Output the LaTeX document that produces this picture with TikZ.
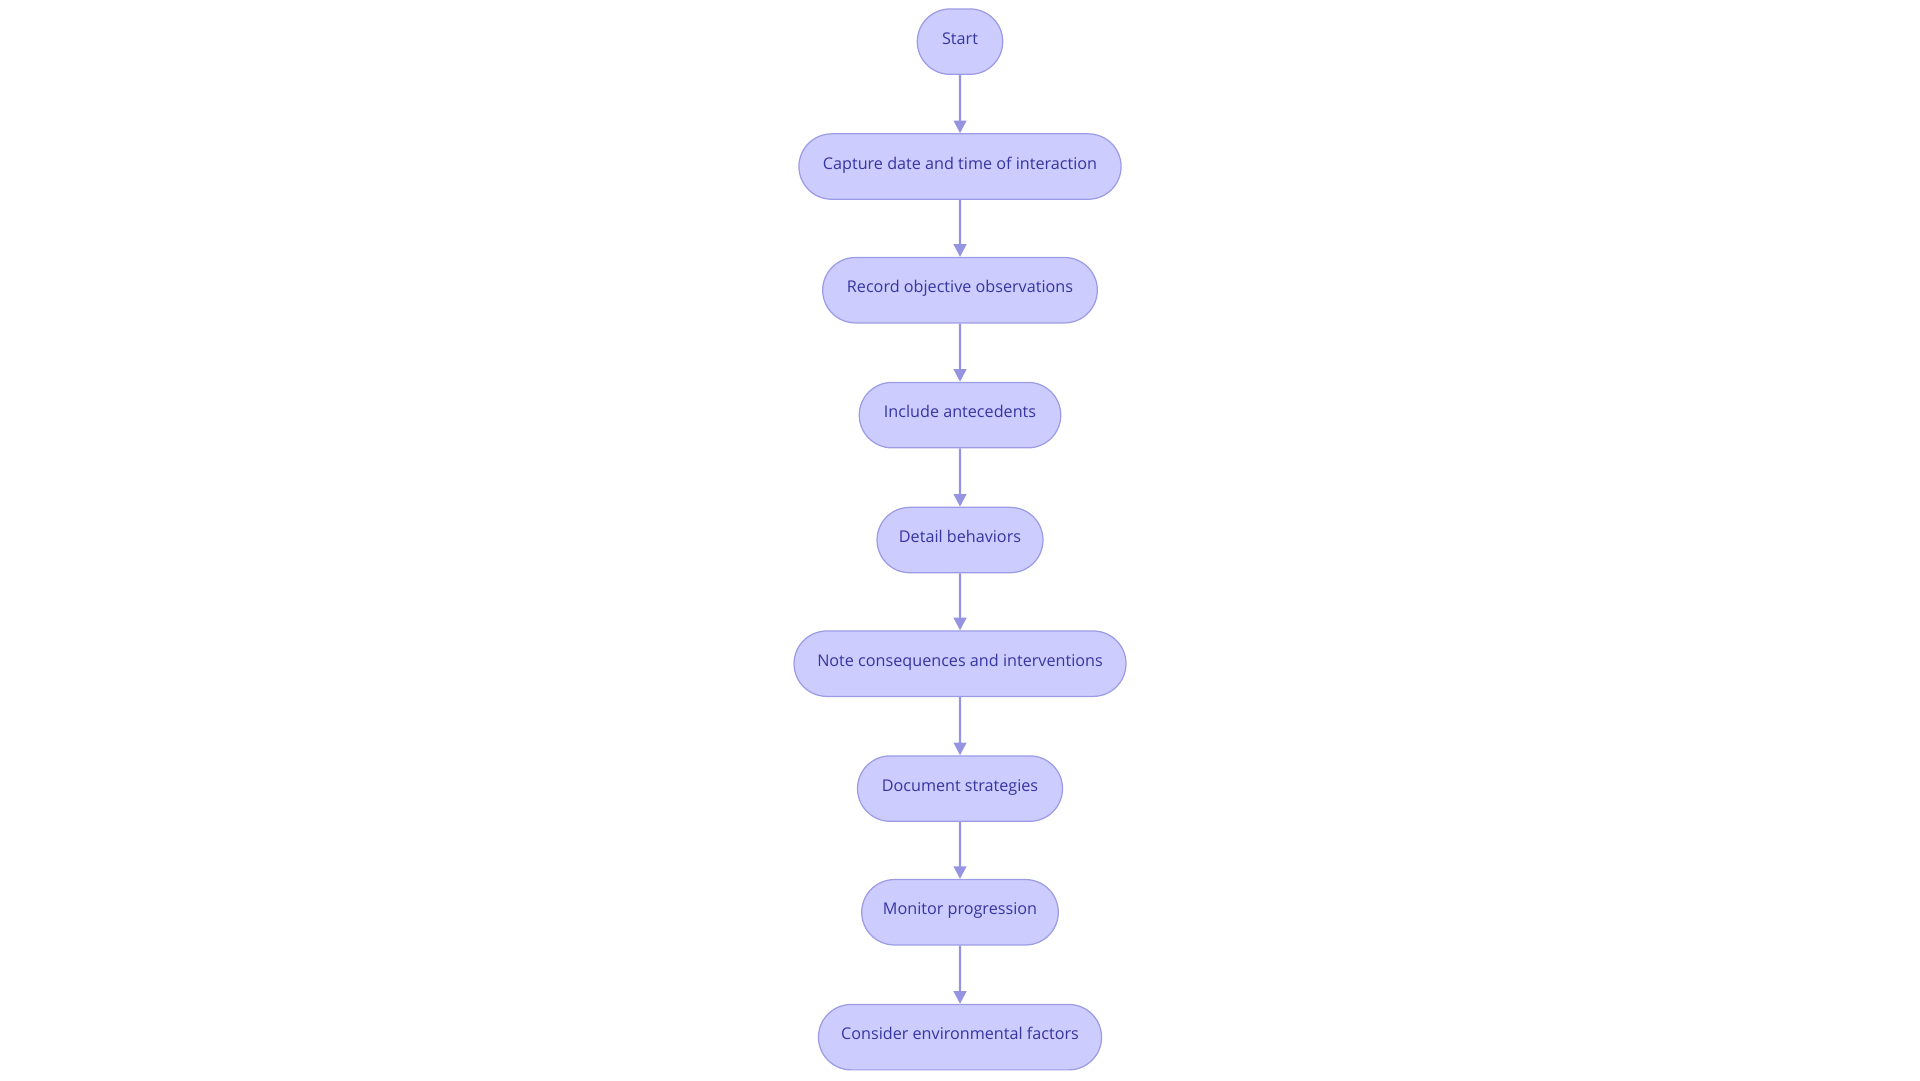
\documentclass[tikz,border=0pt]{standalone}
\usepackage{fontspec}
\setmainfont{Open Sans}
\usetikzlibrary{shapes.misc,arrows.meta}
\definecolor{nfill}{HTML}{CCCCFF}
\definecolor{ndraw}{HTML}{9C9CE6}
\definecolor{ntext}{HTML}{3636A0}
\definecolor{aline}{HTML}{9494E0}
\tikzset{
 stepbox/.style={rounded rectangle, fill=nfill, draw=ndraw, line width=0.35pt, text=ntext,
   minimum height=18.6pt, inner sep=0pt, text height=3.0pt, text depth=1.6pt,
   font=\fontsize{4.6}{5}\selectfont},
 conn/.style={draw=aline, line width=0.6pt, -{Triangle[length=3.6pt,width=3.6pt]}}
}
\begin{document}
\begin{tikzpicture}[x=0.012245cm,y=-0.012245cm]
\useasboundingbox (0,0) rectangle (1568,882);
\node[stepbox,minimum width=24.3pt] (n1) at (784,34) {Start};
\node[stepbox,minimum width=91.6pt] (n2) at (784,136) {Capture date and time of interaction};
\node[stepbox,minimum width=78.1pt] (n3) at (784,237) {Record objective observations};
\node[stepbox,minimum width=57.3pt] (n4) at (784,339) {Include antecedents};
\node[stepbox,minimum width=47.2pt] (n5) at (784,441) {Detail behaviors};
\node[stepbox,minimum width=94.4pt] (n6) at (784,542) {Note consequences and interventions};
\node[stepbox,minimum width=58.3pt] (n7) at (784,644) {Document strategies};
\node[stepbox,minimum width=55.9pt] (n8) at (784,745) {Monitor progression};
\node[stepbox,minimum width=80.5pt] (n9) at (784,847) {Consider environmental factors};
\foreach \a/\b in {n1/n2,n2/n3,n3/n4,n4/n5,n5/n6,n6/n7,n7/n8,n8/n9}
  \draw[conn] (\a) -- (\b);
\end{tikzpicture}
\end{document}
